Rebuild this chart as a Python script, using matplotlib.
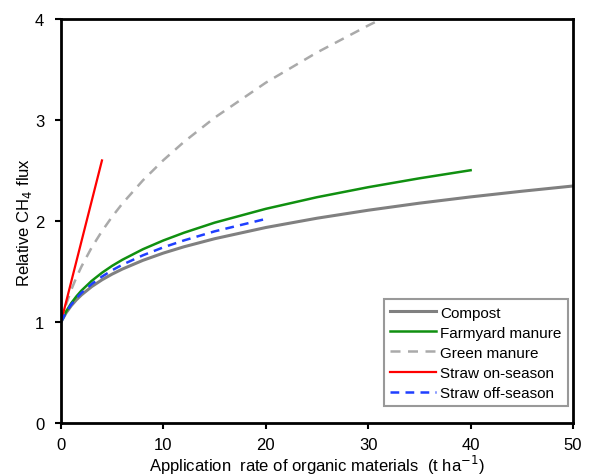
import matplotlib
matplotlib.use("Agg")
import matplotlib.pyplot as plt

plt.rcParams["font.family"] = ["Liberation Sans", "DejaVu Sans"]

# values (relative CH4 flux vs application rate, t/ha)
compost_x = [0, 0.5, 1, 1.5, 2, 3, 4, 5, 6, 8, 10, 12, 15, 20, 25, 30, 35, 40, 45, 50]
compost_y = [1.0, 1.092, 1.162, 1.220, 1.269, 1.351, 1.418, 1.475, 1.525, 1.611,
             1.683, 1.745, 1.825, 1.936, 2.028, 2.107, 2.177, 2.239, 2.295, 2.347]

farmyard_x = [0, 0.5, 1, 1.5, 2, 3, 4, 5, 6, 8, 10, 12, 15, 20, 25, 30, 35, 40]
farmyard_y = [1.0, 1.105, 1.187, 1.254, 1.312, 1.408, 1.488, 1.557, 1.617, 1.721,
              1.808, 1.884, 1.984, 2.121, 2.236, 2.335, 2.423, 2.503]

green_x = [0, 0.5, 1, 1.5, 2, 3, 4, 5, 6, 8, 10, 12, 15, 20, 25, 30, 32]
green_y = [1.0, 1.175, 1.319, 1.441, 1.550, 1.739, 1.900, 2.044, 2.174, 2.403,
           2.603, 2.783, 3.023, 3.370, 3.669, 3.936, 4.036]

straw_on_x = [0, 4]
straw_on_y = [1.0, 2.6]

straw_off_x = [0, 0.5, 1, 1.5, 2, 3, 4, 5, 6, 8, 10, 12, 15, 20]
straw_off_y = [1.0, 1.098, 1.174, 1.236, 1.289, 1.377, 1.450, 1.513, 1.568, 1.661,
               1.740, 1.808, 1.898, 2.021]

fig = plt.figure(figsize=(5.9, 4.77), dpi=100)
ax = fig.add_axes([0.1034, 0.111, 0.8678, 0.847])

ax.plot(compost_x, compost_y, color="#808080", lw=2.2, label="Compost")
ax.plot(farmyard_x, farmyard_y, color="#109010", lw=1.8, label="Farmyard manure")
ax.plot(green_x, green_y, color="#AAAAAA", lw=1.8, ls=(0, (4, 3)), label="Green manure")
ax.plot(straw_on_x, straw_on_y, color="#FF0000", lw=1.6, label="Straw on-season")
ax.plot(straw_off_x, straw_off_y, color="#1F3FFF", lw=1.8, ls=(0, (3.5, 2.5)),
        label="Straw off-season")

ax.set_xlim(0, 50)
ax.set_ylim(0, 4)
ax.set_xticks([0, 10, 20, 30, 40, 50])
ax.set_yticks([0, 1, 2, 3, 4])
ax.tick_params(direction="out", length=4, width=1.5, labelsize=12, colors="black")
ax.tick_params(axis="y", pad=8)
ax.tick_params(axis="x", pad=6)
for s in ax.spines.values():
    s.set_linewidth(2)
    s.set_color("black")

ax.set_xlabel("Application  rate of organic materials  (t ha$^{-1}$)", fontsize=12, labelpad=1)
ax.set_ylabel("Relative CH$_4$ flux", fontsize=12, labelpad=1)

leg = ax.legend(loc="lower right", bbox_to_anchor=(0.99, 0.042), fontsize=11,
                frameon=True, fancybox=False, edgecolor="#808080",
                handlelength=3.0, handletextpad=0.3, labelspacing=0.4,
                borderpad=0.4, borderaxespad=0)
leg.get_frame().set_linewidth(1.5)

fig.savefig("out.png", dpi=100)
